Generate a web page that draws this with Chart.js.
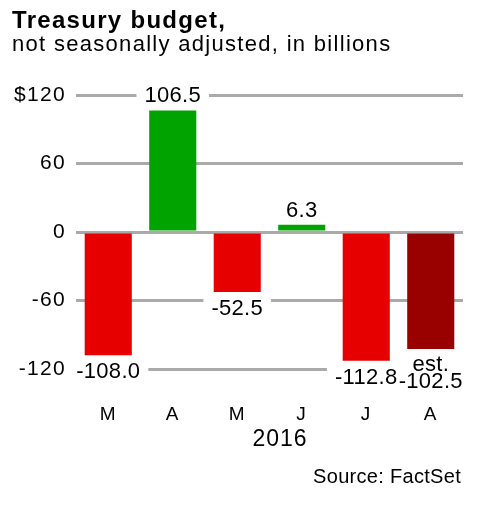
<!DOCTYPE html>
<html>
<head>
<meta charset="utf-8">
<title>Treasury budget</title>
<script src="https://cdn.jsdelivr.net/npm/chart.js@4.4.1/dist/chart.umd.min.js"></script>
<style>
  html, body { margin: 0; padding: 0; background: #fff; }
  #wrap { width: 477px; height: 519px; }
</style>
</head>
<body>
<div id="wrap"><canvas id="myChart" width="477" height="519"></canvas></div>
<script>
// months on the x axis (March - August 2016)
var months = ['M', 'A', 'M', 'J', 'J', 'A'];

// monthly budget balance, billions of dollars
var balance = [-108.0, 106.5, -52.5, 6.3, -112.8, -102.5];

// the last month is only an estimate
var estimate = [false, false, false, false, false, true];

// y axis ticks and their labels
var yTicks = [-120, -60, 0, 60, 120];
var yTickLabels = ['-120', '-60', '0', '60', '$120'];

var family = "'Liberation Sans', Arial, Helvetica, sans-serif";

// colour of each bar: red deficit, green surplus, dark red for the estimate
var colors = [];
for (var i = 0; i < balance.length; i++) {
    if (estimate[i]) {
        colors.push('#990000');
    } else if (balance[i] < 0) {
        colors.push('#e60000');
    } else {
        colors.push('#00a300');
    }
}

// value labels with a white box over the grid lines, plus year and source
var labelsPlugin = {
    id: 'labelsPlugin',
    beforeDraw: function (chart) {
        // the original lettering is a little wider than Arial
        chart.ctx.letterSpacing = '1.3px';
    },
    beforeDatasetsDraw: function (chart) {
        chart.ctx.letterSpacing = '0px';
    },
    afterDatasetsDraw: function (chart) {
        var ctx = chart.ctx;
        var bars = chart.getDatasetMeta(0).data;
        var items = [];
        ctx.save();
        ctx.letterSpacing = '0.3px';
        ctx.font = '22px ' + family;
        ctx.textAlign = 'center';
        ctx.textBaseline = 'middle';
        // first the white boxes, so no box hides the neighbour's text
        for (var i = 0; i < bars.length; i++) {
            var bar = bars[i];
            var lines = [balance[i].toFixed(1)];
            if (estimate[i]) {
                lines.unshift('est.');
            }
            var y0;
            if (balance[i] >= 0) {
                y0 = bar.y - 14;
            } else {
                y0 = bar.y + (estimate[i] ? 16 : 17);
            }
            var w = 0;
            for (var k = 0; k < lines.length; k++) {
                w = Math.max(w, ctx.measureText(lines[k]).width);
            }
            w += 16;
            ctx.fillStyle = '#fff';
            ctx.fillRect(bar.x - w / 2, y0 - 13, w, 26 + 17 * (lines.length - 1));
            items.push({ x: bar.x, y: y0, lines: lines });
        }
        ctx.fillStyle = '#000';
        for (var i = 0; i < items.length; i++) {
            for (var k = 0; k < items[i].lines.length; k++) {
                ctx.fillText(items[i].lines[k], items[i].x, items[i].y + 17 * k);
            }
        }
        ctx.restore();
    },
    afterDraw: function (chart) {
        var ctx = chart.ctx;
        ctx.save();
        ctx.fillStyle = '#000';
        ctx.textBaseline = 'middle';
        ctx.letterSpacing = '1px';
        ctx.font = '23px ' + family;
        ctx.textAlign = 'center';
        ctx.fillText('2016', 280, 440);
        ctx.letterSpacing = '0.3px';
        ctx.font = '20px ' + family;
        ctx.textAlign = 'right';
        ctx.fillText('Source: FactSet', 461, 477);
        ctx.restore();
    }
};

var ctx = document.getElementById('myChart').getContext('2d');

var myChart = new Chart(ctx, {
    type: 'bar',
    data: {
        labels: months,
        datasets: [{
            data: balance,
            backgroundColor: colors,
            borderWidth: 0,
            categoryPercentage: 1,
            barPercentage: 0.73
        }]
    },
    plugins: [labelsPlugin],
    options: {
        responsive: false,
        animation: false,
        layout: {
            padding: { left: 12, right: 14, top: 0, bottom: 67 }
        },
        plugins: {
            legend: { display: false },
            tooltip: { enabled: false },
            title: {
                display: true,
                text: 'Treasury budget,',
                align: 'start',
                color: '#000',
                font: { family: family, size: 24, weight: 'bold', lineHeight: 1 },
                padding: { top: 9, bottom: 0 }
            },
            subtitle: {
                display: true,
                text: 'not seasonally adjusted, in billions',
                align: 'start',
                color: '#000',
                font: { family: family, size: 22, lineHeight: 1 },
                padding: { top: 1, bottom: 39 }
            }
        },
        scales: {
            x: {
                grid: { display: false },
                border: { display: false },
                ticks: {
                    color: '#000',
                    font: { family: family, size: 19 },
                    padding: 26
                },
                afterFit: function (scale) {
                    scale.height = 83;
                }
            },
            y: {
                min: -120,
                max: 120,
                border: { display: false },
                grid: {
                    color: '#aaaaaa',
                    lineWidth: 3,
                    drawTicks: false
                },
                ticks: {
                    color: '#000',
                    font: { family: family, size: 21 },
                    padding: 10,
                    callback: function (value, index) {
                        return yTickLabels[index];
                    }
                },
                afterBuildTicks: function (scale) {
                    scale.ticks = yTicks.map(function (v) { return { value: v }; });
                },
                afterFit: function (scale) {
                    scale.width = 64;
                }
            }
        }
    }
});
</script>
</body>
</html>
